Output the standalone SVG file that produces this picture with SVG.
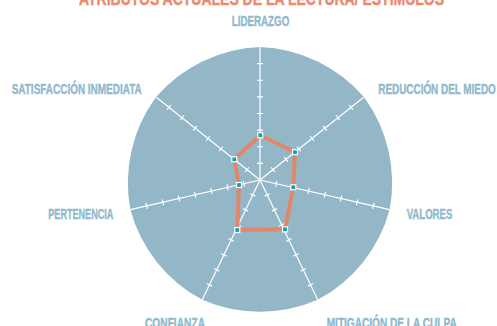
<svg xmlns="http://www.w3.org/2000/svg" xmlns:xlink="http://www.w3.org/1999/xlink" width="497" height="326" viewBox="0 0 497 326">
<style>
.lbl{font-family:"Liberation Sans",Arial,sans-serif;font-weight:bold;font-size:15px;fill:#8fb9cd;stroke:#8fb9cd;stroke-width:0.4}
.title{font-family:"Liberation Sans",Arial,sans-serif;font-weight:bold;font-size:18px;fill:#ea8a6e;stroke:#ea8a6e;stroke-width:0.4}
.ax{stroke:#ffffff;stroke-width:1.2;fill:none}
.mk{fill:#159fb6;stroke:#ffffff;stroke-width:1.2}
</style>
<defs>
<g id="axis" class="ax">
<line x1="260" y1="180" x2="260" y2="47"/>
<path d="M257 163.375h6M257 146.75h6M257 130.125h6M257 113.5h6M257 96.875h6M257 80.25h6M257 63.625h6"/>
</g>
</defs>
<rect width="497" height="326" fill="#ffffff"/>
<text class="title" x="261.5" y="4.5" text-anchor="middle" textLength="365" lengthAdjust="spacingAndGlyphs">ATRIBUTOS ACTUALES DE LA LECTURA/ ESTÍMULOS</text>
<g id="radar-bg">
<path fill="#94b7c7" d="M260 47A145 145 0 0 1 363.98 97.08A145 145 0 0 1 389.67 209.6A145 145 0 0 1 317.71 299.83A145 145 0 0 1 202.29 299.83A145 145 0 0 1 130.33 209.6A145 145 0 0 1 156.02 97.08A145 145 0 0 1 260 47Z"/>
</g>
<g id="connectors">
<use xlink:href="#axis"/>
<use xlink:href="#axis" transform="rotate(51.4286 260 180)"/>
<use xlink:href="#axis" transform="rotate(102.8571 260 180)"/>
<use xlink:href="#axis" transform="rotate(154.2857 260 180)"/>
<use xlink:href="#axis" transform="rotate(205.7143 260 180)"/>
<use xlink:href="#axis" transform="rotate(257.1429 260 180)"/>
<use xlink:href="#axis" transform="rotate(308.5714 260 180)"/>
<polygon points="260.3,135.3 295,152.2 293.3,187.3 285,229.3 237.3,230 239,185 234.3,159.3" fill="none" stroke="#e0866b" stroke-width="4" stroke-linejoin="round"/>
</g>
<g id="points">
<rect class="mk" x="257.8" y="132.8" width="5" height="5"/>
<rect class="mk" x="292.5" y="149.7" width="5" height="5"/>
<rect class="mk" x="290.8" y="184.8" width="5" height="5"/>
<rect class="mk" x="282.5" y="226.8" width="5" height="5"/>
<rect class="mk" x="234.8" y="227.5" width="5" height="5"/>
<rect class="mk" x="236.5" y="182.5" width="5" height="5"/>
<rect class="mk" x="231.8" y="156.8" width="5" height="5"/>
</g>
<g id="label-liderazgo"><text class="lbl" x="231.7" y="26" textLength="57.6" lengthAdjust="spacingAndGlyphs">LIDERAZGO</text></g>
<g id="label-reduccion"><text class="lbl" x="378.3" y="94" textLength="117.5" lengthAdjust="spacingAndGlyphs">REDUCCIÓN DEL MIEDO</text></g>
<g id="label-valores"><text class="lbl" x="406.7" y="219" textLength="45.6" lengthAdjust="spacingAndGlyphs">VALORES</text></g>
<g id="label-mitigacion"><text class="lbl" x="326.7" y="327.5" textLength="130" lengthAdjust="spacingAndGlyphs">MITIGACIÓN DE LA CULPA</text></g>
<g id="label-confianza"><text class="lbl" x="145" y="327.5" textLength="60" lengthAdjust="spacingAndGlyphs">CONFIANZA</text></g>
<g id="label-pertenencia"><text class="lbl" x="48.3" y="219" textLength="65" lengthAdjust="spacingAndGlyphs">PERTENENCIA</text></g>
<g id="label-satisfaccion"><text class="lbl" x="11.7" y="94" textLength="130" lengthAdjust="spacingAndGlyphs">SATISFACCIÓN INMEDIATA</text></g>
</svg>
